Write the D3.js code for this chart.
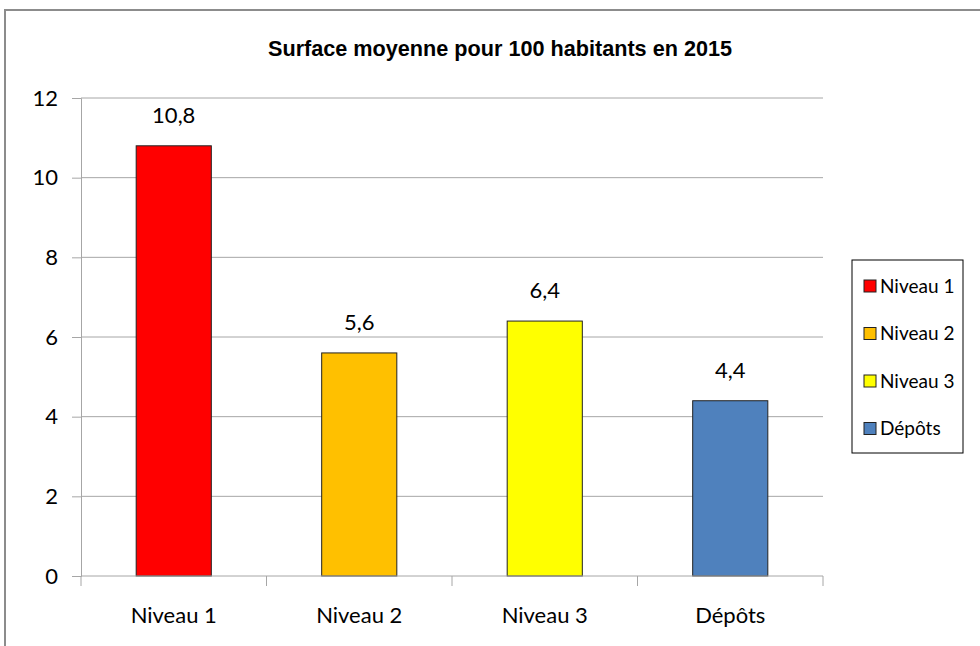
<!DOCTYPE html>
<html>
<head>
<meta charset="utf-8">
<script src="https://cdn.jsdelivr.net/npm/d3@7"></script>
<style>
  body { margin: 0; background: #fff; }
  svg { display: block; }
</style>
</head>
<body>
<div class="chart"></div>
<script>
const categories = ['Niveau 1', 'Niveau 2', 'Niveau 3', 'Dépôts'];
const values = [10.8, 5.6, 6.4, 4.4];
const colors = ['#FF0000', '#FFC000', '#FFFF00', '#4F81BD'];
const yTicks = [0, 2, 4, 6, 8, 10, 12];
const title = 'Surface moyenne pour 100 habitants en 2015';

const width = 980, height = 646;
const plot = { left: 81, right: 823, top: 98, bottom: 576 };

const svg = d3.select('.chart').append('svg')
    .attr('width', width).attr('height', height);

// cadre du graphique (coupé à droite et en bas)
svg.append('path')
    .attr('d', 'M5,' + height + ' V10 H' + width)
    .attr('fill', 'none')
    .attr('stroke', '#8c8c8c')
    .attr('stroke-width', 2);

// titre en police étroite : on compresse via textLength
svg.append('text')
    .attr('x', 268).attr('y', 56)
    .attr('textLength', 464)
    .attr('lengthAdjust', 'spacingAndGlyphs')
    .style('font-family', '"Liberation Sans", Arial, sans-serif')
    .style('font-weight', 'bold')
    .style('font-size', '22px')
    .text(title);

const x = d3.scaleBand()
    .domain(categories)
    .range([plot.left, plot.right])
    .paddingInner(0.595)
    .paddingOuter(0.2975);

const xOuter = d3.scaleBand()
    .domain(categories)
    .range([plot.left, plot.right]);

const y = d3.scaleLinear()
    .domain([0, 12])
    .range([plot.bottom, plot.top]);

const font = 'Lato, "Open Sans", sans-serif';

// grille
svg.append('g')
    .selectAll('line')
    .data(yTicks.filter(d => d > 0))
    .enter()
    .append('line')
    .attr('x1', plot.left).attr('x2', plot.right)
    .attr('y1', d => y(d)).attr('y2', d => y(d))
    .attr('stroke', '#a6a6a6')
    .attr('stroke-width', 1);

// axe Y
const yAxis = svg.append('g')
    .attr('transform', 'translate(' + plot.left + ',0)')
    .call(d3.axisLeft(y).tickValues(yTicks).tickSize(9).tickPadding(14).tickFormat(d3.format('d')));
yAxis.select('.domain').attr('stroke', '#a6a6a6');
yAxis.selectAll('.tick line').attr('stroke', '#a6a6a6');
yAxis.selectAll('text')
    .style('font-family', font)
    .style('font-size', '22px')
    .attr('fill', '#000');

// barres
svg.append('g')
    .selectAll('rect')
    .data(values)
    .enter()
    .append('rect')
    .attr('x', (d, i) => x(categories[i]))
    .attr('y', d => y(d))
    .attr('width', x.bandwidth())
    .attr('height', d => y(0) - y(d))
    .attr('fill', (d, i) => colors[i])
    .attr('stroke', '#222')
    .attr('stroke-width', 1);

// axe X
const xAxisG = svg.append('g')
    .attr('transform', 'translate(0,' + plot.bottom + ')');
xAxisG.append('line')
    .attr('x1', plot.left).attr('x2', plot.right)
    .attr('stroke', '#a6a6a6');
xAxisG.selectAll('line.tick')
    .data(categories.concat(['end']))
    .enter()
    .append('line')
    .attr('class', 'tick')
    .attr('x1', (d, i) => i < categories.length ? xOuter(d) : plot.right)
    .attr('x2', (d, i) => i < categories.length ? xOuter(d) : plot.right)
    .attr('y1', 0).attr('y2', 10)
    .attr('stroke', '#a6a6a6');
xAxisG.selectAll('text')
    .data(categories)
    .enter()
    .append('text')
    .attr('x', d => xOuter(d) + xOuter.bandwidth() / 2)
    .attr('y', 47)
    .attr('text-anchor', 'middle')
    .style('font-family', font)
    .style('font-size', '22px')
    .text(d => d);

// étiquettes de valeurs
const fmt = d => d3.format('.1f')(d).replace('.', ',');
svg.append('g')
    .selectAll('text')
    .data(values)
    .enter()
    .append('text')
    .attr('x', (d, i) => x(categories[i]) + x.bandwidth() / 2)
    .attr('y', d => y(d) - 23)
    .attr('text-anchor', 'middle')
    .style('font-family', font)
    .style('font-size', '22px')
    .text(fmt);

// légende
const legend = svg.append('g').attr('transform', 'translate(852,260)');
legend.append('rect')
    .attr('width', 111).attr('height', 193)
    .attr('fill', '#fff')
    .attr('stroke', '#000')
    .attr('stroke-width', 1);
const items = legend.selectAll('g.item')
    .data(categories)
    .enter()
    .append('g')
    .attr('class', 'item')
    .attr('transform', (d, i) => 'translate(12,' + (26 + i * 47.5) + ')');
items.append('rect')
    .attr('x', 0).attr('y', -6)
    .attr('width', 12).attr('height', 12)
    .attr('fill', (d, i) => colors[i])
    .attr('stroke', '#222');
items.append('text')
    .attr('x', 16).attr('y', 6.5)
    .style('font-family', font)
    .style('font-size', '19px')
    .text(d => d);
</script>
</body>
</html>
